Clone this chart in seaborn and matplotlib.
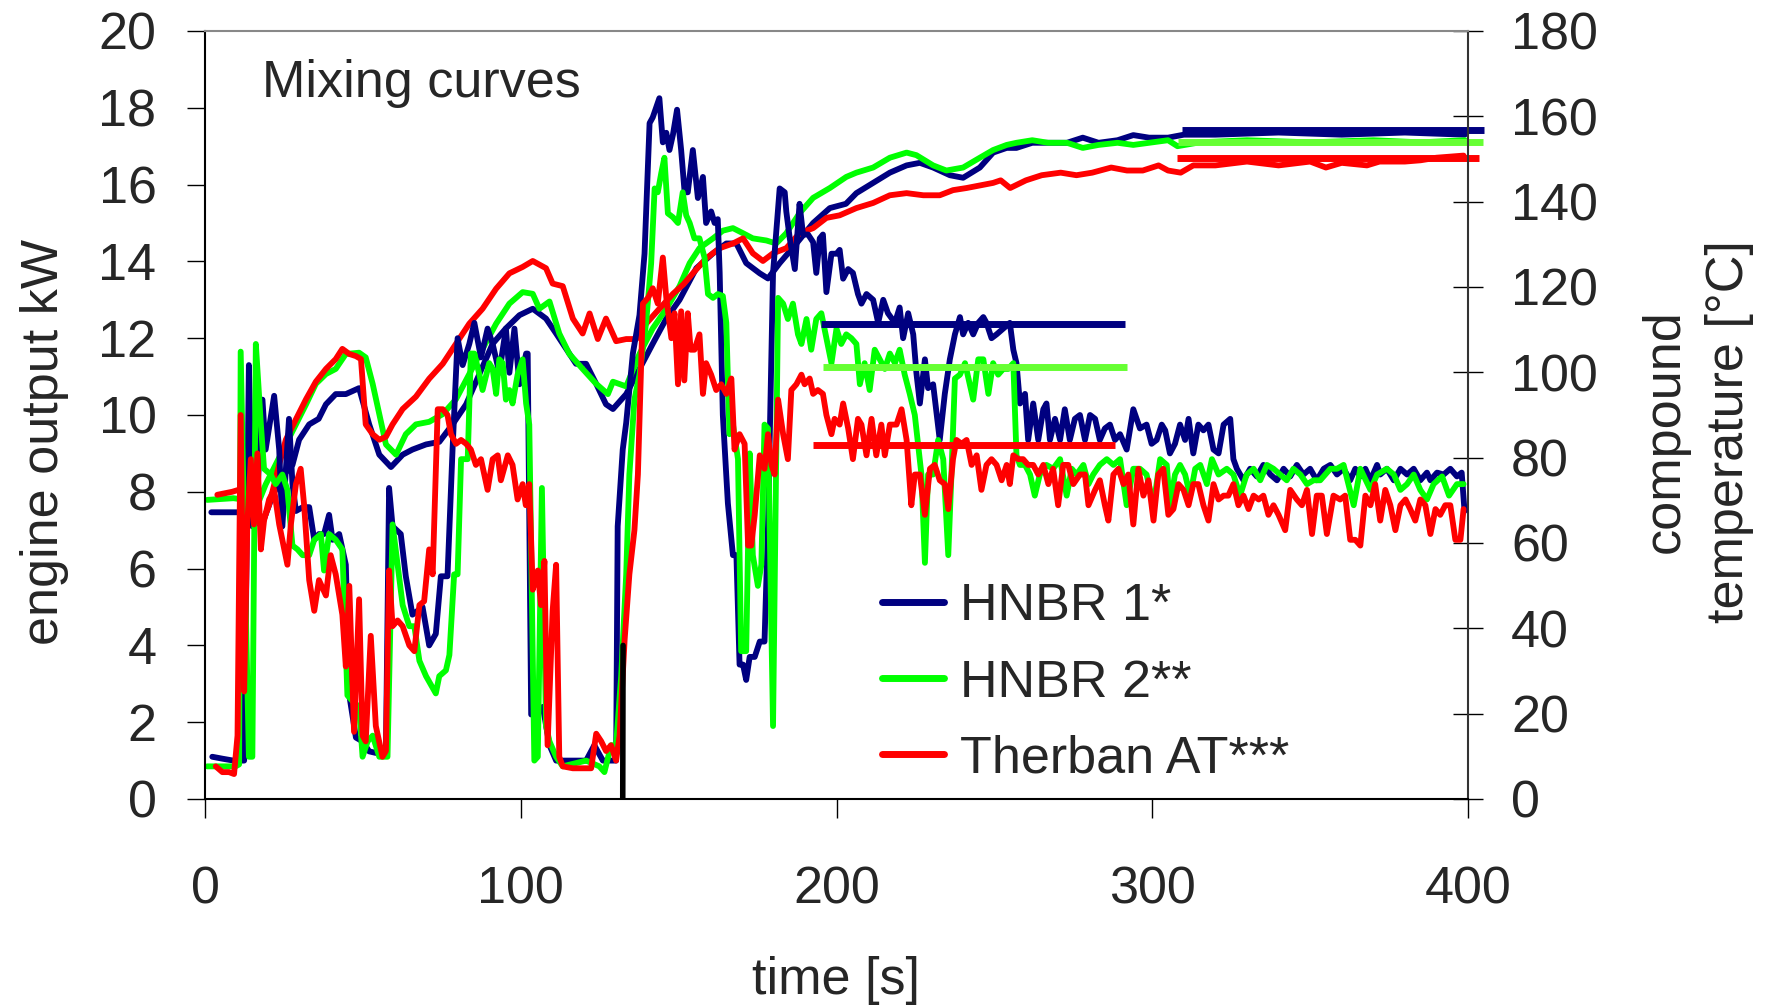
import matplotlib
matplotlib.use("Agg")
import matplotlib.pyplot as plt
import seaborn as sns
from matplotlib.lines import Line2D

# colours
NAVY = "#000080"
GREEN = "#00FF00"
RED = "#FF0000"
LIGHT_GREEN = "#66FF33"

labels = ["HNBR 1*", "HNBR 2**", "Therban AT***"]

# ---- engine output [kW] ----
t_p1 = [2.3, 5.5, 9.0, 12.4, 13.9, 15.0, 16.6, 18.2, 19.2, 21.9,
        23.5, 24.5, 26.6, 27.7, 28.8, 31.0, 33.0, 34.6, 36.1, 37.7,
        39.3, 40.4, 42.5, 44.6, 45.7, 47.8, 49.9, 52.0, 54.1, 57.3,
        58.3, 59.4, 62.0, 63.6, 65.7, 68.9, 71.0, 73.1, 74.7, 76.8,
        78.4, 80.0, 81.6, 83.7, 85.3, 87.4, 89.5, 91.1, 93.2, 95.3,
        96.4, 98.0, 99.6, 101.7, 102.2, 103.3, 104.8, 107.0, 109.1, 111.2,
        115.4, 120.7, 123.3, 126.0, 130.2, 130.7, 132.3, 133.4, 135.5, 137.6,
        139.2, 140.8, 141.8, 143.9, 145.0, 146.1, 147.1, 148.2, 149.5, 150.8,
        151.9, 152.9, 154.5, 156.1, 157.7, 158.7, 160.3, 161.4, 162.4, 163.0,
        164.0, 165.6, 167.2, 168.3, 169.3, 170.4, 171.4, 172.5, 174.1, 175.7,
        177.2, 178.3, 179.9, 182.0, 183.6, 184.1, 185.2, 186.8, 188.3, 189.4,
        191.0, 192.6, 193.6, 194.7, 195.7, 196.8, 198.4, 200.0, 201.0, 202.1,
        203.7, 205.2, 206.8, 207.9, 209.5, 211.6, 213.2, 214.8, 216.3, 218.5,
        220.0, 221.1, 222.7, 224.3, 225.3, 226.4, 228.0, 229.0, 230.6, 232.7,
        234.3, 235.9, 237.5, 239.1, 240.1, 241.7, 243.3, 244.9, 246.5, 247.5,
        249.1, 250.7, 252.8, 254.9, 256.0, 257.0, 258.1, 259.7, 260.7, 262.3,
        263.9, 265.5, 266.5, 267.6, 269.2, 270.8, 272.3, 273.9, 275.5, 277.1,
        278.7, 280.3, 281.9, 283.4, 285.0, 286.6, 288.2, 289.8, 291.9, 294.0,
        296.1, 298.2, 299.8, 301.4, 303.0, 304.1, 305.6, 307.2, 308.8, 310.4,
        311.5, 313.0, 314.6, 316.2, 317.8, 319.4, 321.0, 322.6, 324.7, 325.7,
        326.8, 328.9, 331.0, 333.1, 335.2, 337.4, 339.5, 341.6, 343.7, 345.8,
        347.9, 350.0, 352.1, 354.3, 356.4, 358.5, 360.6, 362.7, 364.3, 365.9,
        367.5, 369.1, 371.2, 372.2, 374.3, 376.5, 378.6, 380.7, 382.8, 384.9,
        387.0, 388.1, 390.2, 392.3, 394.4, 396.5, 398.0, 398.9]
power_1 = [1.1, 1.05, 1.0, 1.0, 11.3, 7.1, 8.0, 10.4, 9.1, 10.5,
           9.1, 7.1, 9.9, 8.2, 7.5, 7.6, 7.6, 6.75, 6.9, 6.9,
           7.4, 6.75, 6.9, 6.1, 2.7, 1.6, 1.5, 1.24, 1.2, 1.3,
           8.1, 7.1, 6.9, 5.8, 4.8, 5.0, 4.0, 4.3, 5.8, 5.8,
           9.1, 12.0, 11.3, 11.85, 12.4, 11.5, 12.25, 11.85, 11.1, 12.25,
           11.1, 12.25, 10.8, 11.6, 11.6, 2.2, 2.2, 2.4, 1.4, 1.0,
           1.0, 1.0, 1.4, 1.0, 1.0, 7.1, 9.1, 9.8, 11.6, 12.6,
           14.2, 17.6, 17.75, 18.25, 17.1, 17.35, 16.9, 17.3, 17.95, 16.9,
           15.8, 15.8, 16.9, 15.65, 16.2, 15.0, 15.3, 15.0, 15.1, 13.7,
           10.0, 7.7, 6.35, 6.35, 3.5, 3.5, 3.1, 3.7, 3.7, 4.1,
           4.1, 7.1, 13.7, 15.9, 15.8, 15.3, 14.6, 13.8, 15.5, 14.7,
           14.7, 14.5, 13.7, 14.6, 14.7, 13.2, 14.2, 14.2, 14.3, 13.55,
           13.8, 13.7, 13.15, 12.9, 13.15, 13.0, 12.4, 13.0, 12.65, 12.4,
           12.8, 12.0, 12.65, 12.1, 11.1, 10.3, 11.45, 10.7, 10.8, 9.35,
           10.55, 11.45, 12.1, 12.55, 12.1, 12.4, 12.1, 12.4, 12.55, 12.4,
           12.0, 12.1, 12.25, 12.4, 11.7, 11.35, 10.3, 10.55, 9.35, 10.3,
           9.35, 10.15, 10.3, 9.35, 9.9, 9.35, 10.15, 9.35, 9.9, 10.0,
           9.35, 10.0, 9.9, 9.35, 9.65, 9.75, 9.35, 9.5, 9.1, 10.15,
           9.65, 9.75, 9.25, 9.35, 9.75, 9.6, 9.0, 9.25, 9.75, 9.35,
           9.9, 9.0, 9.75, 9.6, 9.75, 9.1, 9.0, 9.75, 9.9, 8.85,
           8.6, 8.3, 8.6, 8.4, 8.7, 8.45, 8.3, 8.6, 8.4, 8.7,
           8.45, 8.6, 8.3, 8.6, 8.7, 8.45, 8.6, 8.3, 8.6, 8.4,
           8.6, 8.3, 8.7, 8.45, 8.6, 8.3, 8.6, 8.45, 8.6, 8.3,
           8.5, 8.3, 8.5, 8.45, 8.6, 8.4, 8.5, 7.5]

t_p2 = [0.7, 5.5, 9.7, 10.8, 11.3, 12.9, 13.9, 15.0, 16.1, 17.7,
        18.7, 20.8, 22.4, 24.5, 26.1, 27.7, 29.3, 30.9, 33.0, 34.6,
        36.7, 37.7, 39.3, 41.4, 43.5, 45.1, 46.7, 48.8, 49.9, 51.5,
        53.1, 55.2, 57.8, 59.4, 61.0, 62.6, 64.7, 66.3, 67.9, 70.0,
        73.1, 74.2, 76.3, 77.4, 78.9, 80.0, 81.1, 83.2, 84.2, 85.3,
        86.9, 87.9, 90.0, 91.1, 92.2, 93.2, 94.3, 95.3, 96.4, 97.4,
        99.0, 100.6, 101.7, 102.7, 104.3, 105.4, 106.7, 108.0, 109.1, 111.2,
        113.3, 120.7, 124.9, 126.5, 128.6, 130.2, 131.8, 133.4, 134.4, 136.0,
        137.6, 139.7, 141.3, 142.4, 143.4, 144.5, 145.5, 146.6, 148.2, 149.8,
        151.3, 152.4, 153.5, 155.0, 156.6, 158.2, 159.3, 160.9, 162.4, 164.0,
        165.1, 166.1, 167.2, 168.8, 169.8, 171.4, 172.5, 173.5, 175.1, 176.2,
        177.2, 178.3, 179.9, 181.5, 183.1, 184.6, 186.2, 187.8, 188.9, 190.5,
        192.0, 193.6, 195.2, 196.8, 198.4, 200.0, 201.5, 203.1, 204.7, 206.3,
        207.4, 208.9, 210.5, 212.1, 213.7, 215.3, 216.9, 218.5, 220.0, 221.6,
        223.2, 224.8, 226.9, 228.0, 229.0, 230.6, 232.2, 233.8, 235.4, 236.4,
        237.5, 239.1, 240.7, 242.2, 243.3, 244.9, 246.5, 248.1, 249.6, 251.2,
        252.8, 254.4, 256.0, 257.0, 258.1, 259.7, 261.3, 262.8, 264.4, 266.5,
        268.6, 270.8, 272.9, 274.5, 276.0, 278.2, 279.8, 281.3, 283.4, 285.6,
        287.7, 289.8, 291.9, 294.0, 296.1, 298.2, 300.4, 302.5, 304.6, 305.6,
        307.2, 308.8, 310.4, 312.0, 313.6, 315.2, 317.3, 318.9, 321.0, 323.6,
        325.7, 327.8, 329.9, 332.1, 334.2, 336.3, 338.4, 340.5, 342.6, 344.7,
        346.9, 349.0, 351.1, 353.2, 356.4, 358.5, 360.6, 363.8, 365.9, 369.1,
        371.2, 374.3, 376.5, 378.6, 380.7, 382.8, 384.9, 387.0, 389.1, 391.8,
        394.0, 396.5, 398.6]
power_2 = [0.85, 0.85, 0.85, 0.9, 11.65, 5.0, 1.1, 1.1, 11.85, 9.75,
           8.6, 8.45, 8.2, 8.45, 8.05, 6.6, 6.5, 6.35, 6.35, 6.75,
           6.9, 5.95, 6.9, 6.75, 6.5, 2.7, 2.55, 2.4, 1.1, 1.5,
           1.65, 1.1, 1.1, 7.15, 6.1, 5.05, 4.5, 4.5, 3.6, 3.2,
           2.75, 3.2, 3.35, 3.75, 5.85, 5.85, 8.85, 8.85, 11.6, 11.6,
           11.05, 10.65, 11.35, 11.2, 10.55, 11.45, 11.35, 10.4, 10.65, 10.3,
           11.05, 11.45, 10.3, 9.75, 1.0, 1.1, 8.1, 1.9, 1.5, 1.1,
           0.85, 1.0, 0.85, 0.7, 1.4, 1.4, 3.2, 5.85, 8.45, 10.4,
           11.05, 12.4, 13.95, 15.9, 15.8, 16.3, 16.7, 15.25, 15.15, 15.0,
           15.8, 15.2, 15.0, 14.6, 14.6, 14.1, 13.15, 13.05, 13.15, 13.1,
           12.4, 9.5, 9.75, 8.85, 3.85, 3.85, 9.0, 6.35, 5.55, 6.1,
           9.75, 9.65, 1.9, 13.05, 12.9, 12.5, 12.9, 12.1, 11.85, 12.5,
           11.7, 12.5, 12.65, 12.0, 11.35, 12.25, 11.85, 12.1, 12.0, 11.85,
           10.8, 11.35, 10.65, 11.7, 11.45, 11.2, 11.6, 11.35, 11.7, 11.05,
           10.55, 10.0, 8.45, 6.15, 8.45, 8.45, 9.35, 8.85, 6.35, 8.45,
           10.95, 11.05, 11.35, 10.8, 10.4, 11.45, 11.45, 10.55, 11.35, 11.05,
           11.2, 11.2, 11.35, 8.95, 8.7, 8.7, 8.45, 7.9, 8.45, 8.7,
           8.6, 8.85, 7.9, 8.6, 8.45, 8.7, 8.2, 8.45, 8.7, 8.85,
           8.7, 8.85, 7.65, 8.6, 8.6, 8.45, 7.65, 8.85, 8.7, 7.65,
           8.45, 8.7, 8.45, 7.9, 8.6, 8.7, 8.2, 8.85, 8.45, 8.6,
           8.45, 7.9, 8.45, 8.6, 8.3, 8.7, 8.6, 8.45, 8.3, 8.6,
           8.45, 8.2, 8.3, 8.3, 8.6, 8.6, 8.7, 7.65, 8.6, 8.05,
           8.45, 8.6, 8.45, 8.05, 8.2, 8.45, 8.05, 7.8, 8.2, 8.4,
           7.9, 8.2, 8.2]

t_p3 = [3.4, 5.5, 7.6, 9.2, 10.3, 11.3, 12.4, 13.4, 14.5, 15.5,
        16.6, 17.7, 18.7, 20.3, 21.9, 23.5, 25.1, 26.1, 27.2, 28.8,
        30.3, 31.4, 33.0, 34.6, 36.1, 38.3, 39.8, 41.4, 43.5, 44.6,
        45.7, 47.2, 48.8, 49.9, 50.9, 52.5, 54.1, 56.2, 57.3, 58.3,
        59.4, 61.0, 62.6, 64.7, 66.3, 67.9, 69.4, 71.0, 72.1, 73.7,
        75.3, 76.8, 77.9, 79.5, 81.1, 82.7, 84.2, 85.8, 87.4, 89.5,
        91.1, 92.7, 93.7, 95.9, 97.4, 99.0, 100.6, 101.6, 102.7, 103.8,
        105.4, 106.4, 107.5, 108.5, 110.1, 111.2, 112.2, 113.3, 116.5, 120.7,
        122.3, 123.9, 125.5, 127.0, 128.6, 130.2, 131.3, 132.9, 134.4, 136.0,
        137.1, 138.7, 140.3, 141.8, 143.4, 145.0, 146.1, 147.7, 148.7, 149.8,
        150.8, 151.8, 152.9, 153.8, 155.0, 156.6, 157.7, 158.7, 160.3, 161.9,
        163.5, 165.1, 166.7, 167.7, 169.3, 170.9, 172.0, 173.0, 174.1, 175.7,
        177.2, 178.3, 179.4, 180.4, 181.5, 183.1, 184.6, 185.7, 187.3, 188.9,
        189.9, 191.5, 192.6, 194.1, 195.7, 196.8, 198.4, 199.4, 201.0, 202.1,
        203.7, 205.2, 206.8, 207.9, 209.5, 211.1, 212.6, 214.2, 215.3, 216.9,
        219.0, 220.6, 222.2, 223.7, 224.8, 226.4, 228.0, 229.6, 231.1, 232.7,
        234.3, 235.4, 236.9, 238.0, 239.6, 241.2, 242.8, 244.4, 245.9, 247.5,
        249.1, 250.7, 252.3, 253.9, 254.9, 256.0, 257.6, 259.1, 260.7, 262.3,
        263.9, 265.5, 267.1, 268.6, 270.2, 271.8, 273.4, 275.0, 277.1, 278.7,
        279.8, 281.9, 283.4, 285.0, 286.1, 287.7, 289.3, 290.9, 292.4, 294.0,
        295.6, 297.2, 298.8, 300.4, 301.9, 303.5, 305.1, 306.7, 308.3, 309.9,
        311.5, 313.0, 314.6, 316.2, 317.8, 319.4, 321.0, 322.6, 324.1, 325.7,
        327.3, 328.9, 330.5, 332.1, 333.7, 335.2, 336.8, 338.4, 340.0, 342.1,
        343.7, 345.8, 347.4, 349.0, 350.6, 352.1, 353.7, 355.3, 357.4, 359.5,
        361.1, 362.7, 364.3, 365.9, 367.5, 369.1, 370.6, 372.2, 373.8, 375.4,
        377.0, 378.6, 380.2, 381.7, 383.3, 384.9, 386.5, 388.1, 389.7, 391.2,
        392.8, 394.4, 396.0, 397.6, 398.6]
power_3 = [0.85, 0.7, 0.7, 0.65, 1.65, 10.0, 2.8, 7.15, 8.85, 7.15,
           9.0, 6.5, 7.25, 7.8, 8.05, 7.15, 6.5, 6.1, 7.15, 8.2,
           8.6, 7.65, 5.7, 4.9, 5.7, 5.3, 6.35, 5.85, 4.8, 3.45,
           5.55, 1.75, 5.2, 1.65, 1.5, 4.25, 1.9, 1.1, 1.25, 5.95,
           4.5, 4.65, 4.5, 4.0, 3.85, 5.05, 5.15, 6.5, 5.85, 10.15,
           10.15, 10.0, 9.5, 9.25, 9.35, 9.25, 9.1, 8.7, 8.85, 8.05,
           8.85, 8.95, 8.3, 8.95, 8.7, 7.8, 8.2, 7.65, 8.2, 5.45,
           5.95, 5.05, 6.2, 1.4, 4.9, 6.1, 1.1, 0.85, 0.8, 0.8,
           0.8, 1.7, 1.5, 1.25, 1.4, 1.0, 1.65, 4.15, 5.85, 7.0,
           8.45, 12.9, 13.05, 13.3, 12.9, 14.1, 13.05, 12.0, 12.65, 10.8,
           12.7, 10.9, 12.65, 11.7, 11.7, 12.1, 10.55, 11.35, 11.05, 10.65,
           10.8, 10.55, 10.95, 9.1, 9.5, 9.25, 6.6, 6.6, 7.4, 8.95,
           8.6, 9.5, 8.7, 8.45, 10.4, 9.5, 8.85, 10.65, 10.8, 11.05,
           10.8, 10.95, 10.55, 10.65, 10.55, 10.0, 9.5, 9.9, 9.75, 10.3,
           9.65, 8.85, 9.9, 9.75, 8.95, 9.9, 8.95, 9.75, 8.95, 9.75,
           9.75, 10.15, 9.35, 7.65, 8.45, 8.45, 7.4, 8.6, 8.7, 8.3,
           8.2, 7.55, 8.85, 9.35, 9.25, 9.35, 8.7, 8.95, 8.05, 8.7,
           8.85, 8.7, 8.3, 8.7, 8.2, 8.95, 8.85, 8.85, 8.7, 8.7,
           8.45, 8.7, 8.2, 8.6, 7.65, 8.7, 8.7, 8.2, 8.45, 8.45,
           7.65, 8.05, 8.3, 7.65, 7.25, 8.45, 8.6, 8.2, 8.45, 7.15,
           8.6, 7.9, 8.3, 7.25, 8.45, 8.6, 7.4, 7.55, 8.2, 8.05,
           7.65, 8.2, 8.2, 7.65, 7.25, 8.2, 7.8, 7.9, 7.9, 8.2,
           7.65, 7.9, 7.55, 7.9, 7.8, 7.9, 7.4, 7.65, 7.4, 7.0,
           8.05, 7.8, 7.65, 8.05, 6.9, 7.9, 7.9, 6.9, 7.9, 7.8,
           7.9, 6.75, 6.75, 6.6, 7.9, 7.65, 8.2, 7.25, 8.05, 7.65,
           7.0, 7.65, 7.8, 7.55, 7.25, 7.8, 7.65, 6.9, 7.55, 7.4,
           7.65, 7.65, 6.75, 6.75, 7.55]

# ---- compound temperature [°C] ----
t_T1 = [2, 12, 14, 18, 21.4, 24.5, 27.7, 29.8, 33, 36,
        38.3, 41.4, 44.6, 48.8, 52, 55.2, 58.9, 62.6, 65.7, 70,
        74.2, 78.4, 82.7, 86.9, 91.1, 95.3, 99.6, 103.8, 108, 111.2,
        114.4, 117.5, 120.7, 123.9, 127, 129.2, 133.4, 137.6, 141.8, 146.1,
        150.3, 155.6, 160.9, 165.1, 168.3, 171.4, 175.7, 178.3, 182, 187.3,
        192.6, 197.9, 203, 206.3, 211.6, 216.9, 222.2, 226.4, 230.6, 235.9,
        240.1, 245.4, 249.6, 253.9, 257, 262, 267, 273, 278, 283,
        289, 294, 299, 305, 310, 320, 340, 360, 380, 399]
temp_1 = [67.2, 67.2, 65.4, 64.3, 71.1, 75.6, 78.3, 84.2, 87.8, 89.1,
          92.5, 94.9, 94.9, 96.3, 87.8, 80.7, 77.8, 80.7, 81.9, 83.1,
          83.7, 87.8, 92.5, 99.6, 106.7, 110.3, 113.4, 114.9, 112.6, 109.1,
          105.5, 102.0, 102.0, 97.3, 92.5, 91.4, 94.9, 100.8, 106.7, 112.6,
          117.0, 124.4, 127.9, 130.2, 130.2, 125.6, 123.2, 122.0, 125.6, 130.2,
          135.0, 138.5, 139.5, 142.0, 144.4, 146.8, 148.5, 149.1, 148.0, 146.2,
          145.6, 148.0, 151.5, 152.6, 152.6, 153.8, 153.8, 153.8, 155.0, 153.8,
          154.4, 155.6, 155.0, 155.0, 155.7, 155.7, 156.2, 155.7, 156.2, 155.7]

t_T2 = [0.7, 9, 12, 14, 16.6, 19.2, 22.4, 25.6, 28.8, 32,
        35.1, 38.3, 41.4, 44.6, 48.8, 50.9, 53.1, 55.2, 57.3, 60.5,
        63.6, 66.8, 71, 75.3, 79.5, 83.7, 87.9, 92.2, 96.4, 100.6,
        103.8, 105.9, 109.1, 112.2, 115.4, 119.6, 123.9, 127.6, 129.2, 133.4,
        137.6, 141.8, 146.1, 150.3, 153.5, 156.6, 160.9, 164, 167.2, 170.4,
        173.5, 177.8, 180.9, 184.1, 188.3, 192.6, 197.9, 203.1, 206.3, 211.6,
        216.9, 222.2, 225.3, 230.6, 234.8, 240.1, 245.4, 249.6, 253.9, 257,
        262, 267, 273, 278, 283, 289, 294, 299, 305, 308,
        315, 330, 350, 370, 385, 399]
temp_2 = [70.1, 70.5, 70.2, 66.6, 68.9, 73.7, 78.4, 83.1, 87.8, 92.5,
          97.3, 99.6, 100.8, 104.3, 104.6, 103.5, 97.3, 90.2, 83.1, 80.7,
          85.5, 87.8, 88.4, 90.2, 93.7, 99.6, 105.5, 111.4, 116.1, 118.8,
          118.4, 114.9, 116.6, 109.1, 104.3, 100.8, 97.3, 94.9, 97.8, 96.7,
          104.3, 110.3, 114.9, 120.2, 125.6, 129.1, 131.4, 133.2, 133.8, 132.6,
          131.4, 130.9, 130.2, 132.6, 137.3, 140.9, 143.2, 145.8, 146.8, 148.0,
          150.3, 151.5, 150.9, 148.5, 147.3, 148.0, 150.3, 152.1, 153.3, 153.8,
          154.4, 153.8, 153.8, 152.6, 153.3, 153.8, 153.3, 153.8, 154.4, 153.0,
          153.9, 154.4, 153.9, 154.4, 153.9, 154.4]

t_T3 = [3.9, 8.6, 10.8, 14, 18, 20.3, 23.5, 25.6, 28.8, 32,
        35.1, 38.3, 41.4, 43.5, 45.7, 47.8, 49.4, 50.9, 53.1, 55.2,
        57.3, 59.4, 62.6, 66.8, 71, 75.3, 79.5, 83.7, 87.9, 92.2,
        96.4, 100.6, 103.8, 108, 110.1, 113.3, 116.5, 119.6, 121.8, 124.4,
        127, 130.2, 133.4, 136.6, 139.7, 143.9, 148.2, 151.5, 154.5, 158.7,
        163, 167.2, 170.4, 173.5, 176.7, 179.9, 184.1, 188.3, 192.6, 196.8,
        201, 206.3, 211.6, 216.9, 222.2, 227.5, 232.7, 236.9, 241.2, 245.4,
        249.6, 252, 255, 260, 265, 271, 276, 281, 287, 292,
        297, 302, 305, 309, 313, 320, 330, 340, 350, 355,
        360, 368, 372, 380, 385, 390, 398.6]
temp_3 = [71.3, 72.0, 72.5, 66.0, 64.3, 68.9, 78.4, 84.2, 89.0, 93.7,
          97.8, 100.8, 103.1, 105.5, 104.3, 103.8, 103.1, 87.8, 85.5, 84.2,
          84.9, 87.8, 91.4, 94.3, 98.5, 102.0, 106.7, 111.4, 114.9, 119.6,
          123.2, 124.7, 126.1, 124.4, 120.8, 120.2, 112.6, 109.1, 113.8, 107.8,
          112.6, 107.3, 107.8, 107.8, 111.4, 114.9, 118.4, 120.6, 123.2, 126.7,
          129.1, 130.2, 131.4, 127.9, 126.1, 127.9, 129.1, 132.6, 133.8, 136.2,
          136.8, 138.5, 139.7, 141.5, 142.0, 141.5, 141.5, 142.7, 143.2, 143.8,
          144.4, 145.0, 143.2, 145.0, 146.2, 146.8, 146.2, 146.8, 148.0, 147.3,
          147.3, 148.5, 147.3, 146.8, 148.5, 148.5, 149.4, 148.5, 149.4, 148.0,
          149.1, 148.5, 149.4, 149.4, 149.7, 150.3, 150.8]

# ---- mean levels ----
power_mean = [12.38, 11.24, 9.23]
power_mean_from = [195.2, 195.8, 192.6]
power_mean_to = [291.4, 291.9, 288.2]
temp_mean = [156.8, 153.9, 150.3]
temp_mean_from = [309.3, 308.3, 307.8]
temp_mean_to = [405.2, 404.7, 403.4]

# black marker near 133 s
marker_t = [132.3, 132.4]
marker_kw = [0.0, 4.0]

sns.set_style("white")
plt.rcParams["font.family"] = ["Liberation Sans", "DejaVu Sans"]
FS = 37.5
LW = 4.2
MEAN_LW = 5.0

fig = plt.figure(figsize=(17.78, 10.07), dpi=100)
ax = fig.add_axes([205 / 1778, 1 - 799 / 1007, 1263 / 1778, 768 / 1007])
ax2 = ax.twinx()
ax.set_zorder(ax2.get_zorder() + 1)
ax.patch.set_visible(False)

# temperature curves (right axis)
for t, v, c in [(t_T1, temp_1, NAVY), (t_T2, temp_2, GREEN), (t_T3, temp_3, RED)]:
    sns.lineplot(x=t, y=v, ax=ax2, color=c, lw=LW, errorbar=None, legend=False)
for y, x0, x1, c in zip(temp_mean, temp_mean_from, temp_mean_to, [NAVY, LIGHT_GREEN, RED]):
    ax2.hlines(y, x0, x1, color=c, lw=MEAN_LW, clip_on=False)

# engine output curves (left axis)
for t, v, c in [(t_p1, power_1, NAVY), (t_p2, power_2, GREEN), (t_p3, power_3, RED)]:
    sns.lineplot(x=t, y=v, ax=ax, color=c, lw=LW, errorbar=None, legend=False)
for y, x0, x1, c in zip(power_mean, power_mean_from, power_mean_to, [NAVY, LIGHT_GREEN, RED]):
    ax.hlines(y, x0, x1, color=c, lw=MEAN_LW)
sns.lineplot(x=marker_t, y=marker_kw, ax=ax, color="black", lw=4, errorbar=None, legend=False)

ax.set_xlim(0, 400)
ax.set_ylim(0, 20)
ax2.set_ylim(0, 180)
ax.set_xticks(range(0, 401, 100))
ax.set_yticks(range(0, 21, 2))
ax2.set_yticks(range(0, 181, 20))

ax.tick_params(axis="x", bottom=True, direction="out", length=14, width=1,
               color="black", pad=34, labelsize=FS)
ax.tick_params(axis="y", left=True, direction="out", length=13, width=1,
               color="black", pad=22, labelsize=FS)
ax2.tick_params(axis="y", right=True, direction="inout", length=22, width=1,
                color="black", pad=20, labelsize=FS)

for side in ["left", "bottom"]:
    ax.spines[side].set_color("black")
    ax.spines[side].set_linewidth(1.5)
ax.spines["top"].set_color("#888888")
ax.spines["top"].set_linewidth(1.5)
ax.spines["right"].set_visible(False)
for side in ["left", "bottom", "top"]:
    ax2.spines[side].set_visible(False)
ax2.spines["right"].set_color("#333333")
ax2.spines["right"].set_linewidth(1.5)

ax.set_xlabel("time [s]", fontsize=FS, labelpad=30)
ax.set_ylabel("engine output kW", fontsize=FS)
ax.yaxis.set_label_coords(-0.108, 0.465)
ax2.set_ylabel("compound\ntemperature [°C]", fontsize=FS, linespacing=1.4)
ax2.yaxis.set_label_coords(1.137, 0.479)

ax.text(0.045, 0.914, "Mixing curves", transform=ax.transAxes,
        fontsize=FS, va="baseline", ha="left")

handles = [Line2D([], [], color=c, lw=MEAN_LW) for c in [NAVY, GREEN, RED]]
ax.legend(handles, labels, loc="upper left", bbox_to_anchor=(0.536, 0.282),
          frameon=False, fontsize=FS, handlelength=1.2, handletextpad=0.3,
          labelspacing=0.52, borderaxespad=0, borderpad=0)

fig.savefig("out.png", dpi=100)
